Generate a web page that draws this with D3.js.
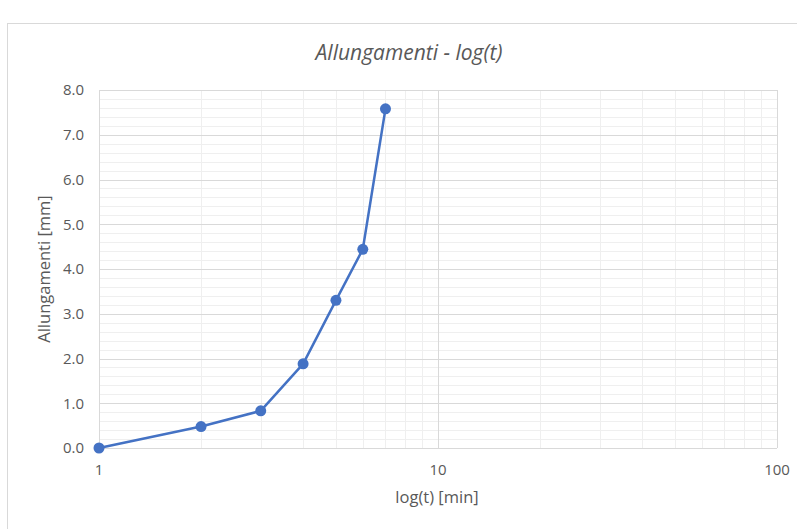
<!DOCTYPE html>
<html>
<head>
<meta charset="utf-8">
<script src="https://cdn.jsdelivr.net/npm/d3@7"></script>
<style>
  body { margin: 0; background: #fff; }
  svg text { font-family: "Open Sans", sans-serif; fill: #595959; }
</style>
</head>
<body>
<svg id="chart" width="797" height="529"></svg>
<script>
// data
const tempi = [1, 2, 3, 4, 5, 6, 7];
const allungamenti = [0, 0.48, 0.83, 1.88, 3.30, 4.44, 7.58];
const xTicks = [1, 10, 100];
const yTicks = [0, 1, 2, 3, 4, 5, 6, 7, 8];

const svg = d3.select("#chart");
const margin = { left: 99, right: 20, top: 90, bottom: 81 };
const width = 797, height = 529;

// outer chart frame
svg.append("rect")
    .attr("x", 7.5).attr("y", 23.5)
    .attr("width", 800).attr("height", 520)
    .attr("fill", "#fff")
    .attr("stroke", "#d9d9d9");

const x = d3.scaleLog().domain([1, 100]).range([margin.left, width - margin.right]);
const y = d3.scaleLinear().domain([0, 8]).range([height - margin.bottom, margin.top]);

const grid = svg.append("g");

// minor gridlines
const yMinor = d3.range(0, 8.001, 0.2).filter(v => Math.abs(v - Math.round(v)) > 1e-6);
grid.selectAll(".ymin").data(yMinor).enter().append("line")
    .attr("x1", x(1)).attr("x2", x(100))
    .attr("y1", d => Math.round(y(d)) + 0.5).attr("y2", d => Math.round(y(d)) + 0.5)
    .attr("stroke", "#efefef");

const xMinor = [2, 3, 4, 5, 6, 7, 8, 9, 20, 30, 40, 50, 60, 70, 80, 90];
grid.selectAll(".xmin").data(xMinor).enter().append("line")
    .attr("x1", d => Math.round(x(d)) + 0.5).attr("x2", d => Math.round(x(d)) + 0.5)
    .attr("y1", y(0)).attr("y2", y(8))
    .attr("stroke", "#efefef");

// major gridlines
grid.selectAll(".ymaj").data(yTicks).enter().append("line")
    .attr("x1", x(1)).attr("x2", x(100))
    .attr("y1", d => Math.round(y(d)) + 0.5).attr("y2", d => Math.round(y(d)) + 0.5)
    .attr("stroke", "#d9d9d9");

grid.selectAll(".xmaj").data(xTicks).enter().append("line")
    .attr("x1", d => Math.round(x(d)) + 0.5).attr("x2", d => Math.round(x(d)) + 0.5)
    .attr("y1", y(0)).attr("y2", y(8))
    .attr("stroke", "#d9d9d9");

// tick labels
svg.selectAll(".ylab").data(yTicks).enter().append("text")
    .attr("x", x(1) - 15)
    .attr("y", d => y(d))
    .attr("dy", "0.35em")
    .attr("text-anchor", "end")
    .attr("font-size", 15)
    .text(d => d.toFixed(1));

svg.selectAll(".xlab").data(xTicks).enter().append("text")
    .attr("x", d => x(d))
    .attr("y", y(0) + 22)
    .attr("dy", "0.35em")
    .attr("text-anchor", "middle")
    .attr("font-size", 15)
    .text(d => d);

// titles
svg.append("text")
    .attr("x", 409).attr("y", 53)
    .attr("dy", "0.35em")
    .attr("text-anchor", "middle")
    .attr("font-size", 21)
    .attr("font-style", "italic")
    .text("Allungamenti - log(t)");

svg.append("text")
    .attr("x", 437).attr("y", 497)
    .attr("dy", "0.35em")
    .attr("text-anchor", "middle")
    .attr("font-size", 16.5)
    .text("log(t) [min]");

svg.append("text")
    .attr("transform", `translate(44, ${(y(0) + y(8)) / 2}) rotate(-90)`)
    .attr("dy", "0.35em")
    .attr("text-anchor", "middle")
    .attr("font-size", 16.5)
    .text("Allungamenti [mm]");

// series
const pts = tempi.map((t, i) => [t, allungamenti[i]]);
const line = d3.line().x(d => x(d[0])).y(d => y(d[1]));

svg.append("path")
    .datum(pts)
    .attr("d", line)
    .attr("fill", "none")
    .attr("stroke", "#4472c4")
    .attr("stroke-width", 2.5)
    .attr("stroke-linejoin", "round");

svg.selectAll(".pt").data(pts).enter().append("circle")
    .attr("cx", d => x(d[0]))
    .attr("cy", d => y(d[1]))
    .attr("r", 5.5)
    .attr("fill", "#4472c4");
</script>
</body>
</html>
